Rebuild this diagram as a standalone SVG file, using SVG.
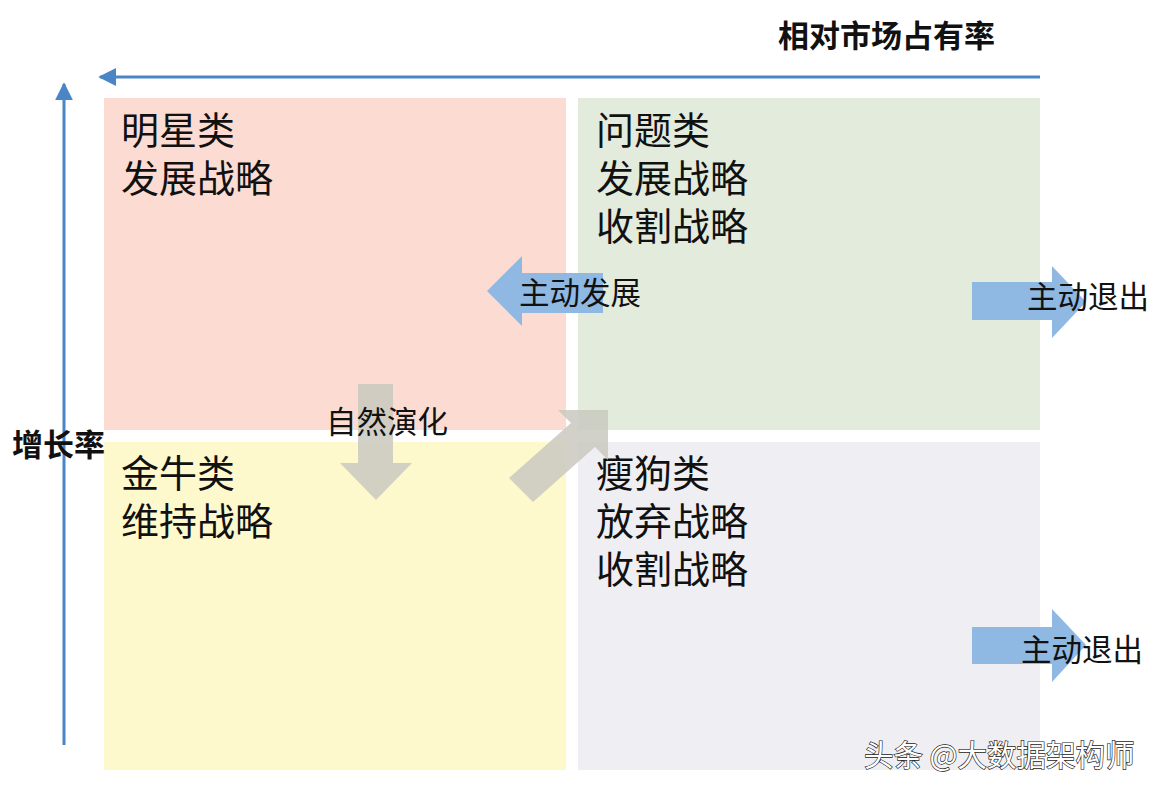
<svg xmlns="http://www.w3.org/2000/svg" width="1158" height="794" viewBox="0 0 1158 794">
<defs>
<style>
.q{font-family:"Noto Sans CJK SC","Noto Sans",sans-serif;font-size:38px;fill:#111}
.lab{font-family:"Noto Sans CJK SC","Noto Sans",sans-serif;font-size:30.5px;fill:#111}
.ax{font-family:"Noto Sans CJK SC","Noto Sans",sans-serif;font-size:31px;font-weight:bold;fill:#111}
.axis{stroke:#4a86c6;stroke-width:3;fill:none}
.blue{fill:#8fb8e2}
.grey{fill:#c9c9c0;opacity:0.85}
.wm{font-family:"Noto Sans CJK SC","Noto Sans",sans-serif;font-size:29.5px;fill:#fff;stroke:#222;stroke-width:1.3;paint-order:stroke}
</style>
<marker id="ah" viewBox="0 0 10 10" refX="9" refY="5" markerWidth="6" markerHeight="6" orient="auto-start-reverse" markerUnits="strokeWidth">
<path d="M0,0 L10,5 L0,10 z" fill="#4a86c6"/>
</marker>
</defs>
<rect width="1158" height="794" fill="#fff"/>
<g id="star"><rect x="104" y="98" width="462" height="332" fill="#fcdcd2"/>
<text class="q" x="121" y="144">明星类</text><text class="q" x="121" y="192">发展战略</text></g>
<g id="question"><rect x="578" y="98" width="462" height="332" fill="#e2ebdc"/>
<text class="q" x="596" y="144">问题类</text><text class="q" x="596" y="192">发展战略</text><text class="q" x="596" y="240">收割战略</text></g>
<g id="cow"><rect x="104" y="442" width="462" height="328" fill="#fef9cd"/>
<text class="q" x="121" y="487">金牛类</text><text class="q" x="121" y="535">维持战略</text></g>
<g id="dog"><rect x="578" y="442" width="462" height="328" fill="#efeff3"/>
<text class="q" x="596" y="487">瘦狗类</text><text class="q" x="596" y="535">放弃战略</text><text class="q" x="596" y="583">收割战略</text></g>
<g id="connectors">
<line class="axis" x1="1040" y1="77" x2="100" y2="77" marker-end="url(#ah)"/>
<line class="axis" x1="64" y1="745" x2="64" y2="84" marker-end="url(#ah)"/>
<polygon class="blue" points="487,291 522,256 522,273 603,273 603,313 522,313 522,326"/>
<polygon class="blue" points="972,282 1052,282 1052,266 1086,302 1052,338 1052,320 972,320"/>
<polygon class="blue" points="972,627 1052,627 1052,609 1086,645 1052,682 1052,664 972,664"/>
<polygon class="grey" points="358,384 393,384 393,463 412,463 376,500 340,463 358,463"/>
<polygon class="grey" points="608,410 608,460 595,447 533,502 509,478 571,423 558,410"/>
</g>
<g id="labels">
<text class="ax" x="778" y="47">相对市场占有率</text>
<text class="ax" x="12" y="456">增长率</text>
<text class="lab" x="519" y="304">主动发展</text>
<text class="lab" x="326" y="433">自然演化</text>
<text class="lab" x="1027" y="308">主动退出</text>
<text class="lab" x="1021" y="661">主动退出</text>
</g>
<g id="watermark"><text class="wm" x="864" y="766">头条 @大数据架构师</text></g>
</svg>
